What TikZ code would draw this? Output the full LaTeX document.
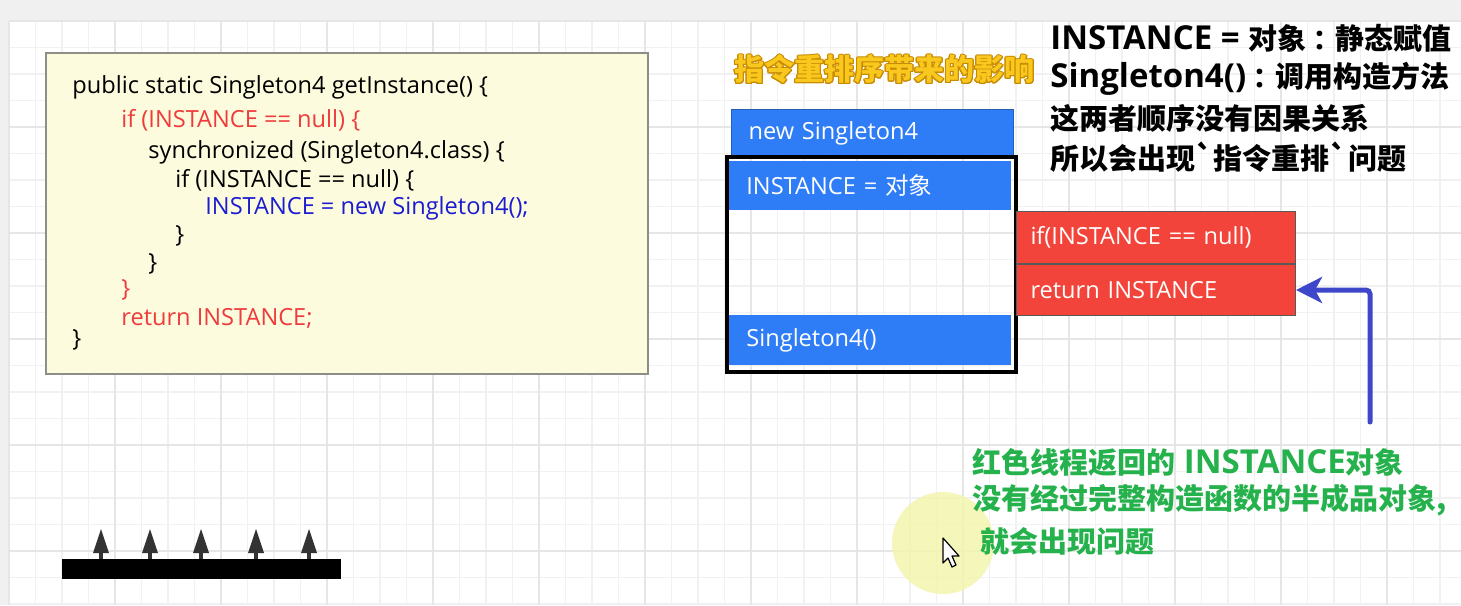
\documentclass[tikz,border=0pt]{standalone}
\usepackage{fontspec}
\setmainfont{Open Sans}
\newfontfamily\cjk{Noto Sans CJK SC}
\usepackage[copies]{contour}
\usetikzlibrary{arrows.meta}
\definecolor{pagegray}{HTML}{F0F0F0}
\definecolor{gridminor}{HTML}{F1F1F1}
\definecolor{gridmajor}{HTML}{E6E6E6}
\definecolor{codebg}{HTML}{FDFBDD}
\definecolor{codeframe}{HTML}{8E8E88}
\definecolor{kwred}{HTML}{EE3B3B}
\definecolor{kwblue}{HTML}{1C1CD2}
\definecolor{stepblue}{HTML}{2F7DF6}
\definecolor{stepred}{HTML}{F2443A}
\definecolor{arrowblue}{HTML}{3E47C9}
\definecolor{titleyellow}{HTML}{F8C81E}
\definecolor{titleedge}{HTML}{C98A00}
\definecolor{notegreen}{HTML}{25B24D}
\definecolor{treegray}{HTML}{333333}
\definecolor{cursorglow}{HTML}{F3F5AE}
\contourlength{0.5pt}
\newcommand{\zh}[1]{{\cjk\fontsize{14.5}{17}\selectfont #1}}
\begin{document}
\begin{tikzpicture}[x=0.5pt, y=-0.5pt,
	code/.style = {anchor=west, inner sep=0pt, font=\fontsize{11.8}{14}\selectfont},
	stepbox/.style = {minimum height=24pt, inner xsep=8.5pt, text width=124pt, align=left,
		text=white, font=\fontsize{11.8}{14}\selectfont},
	redbox/.style = {stepbox, fill=stepred, draw=black!65, line width=0.5pt,
		text width=125.5pt, inner xsep=7pt},
	note/.style = {anchor=west, inner sep=0pt, font=\bfseries\fontsize{16.5}{19}\selectfont}]
	\useasboundingbox (0,0) rectangle (1461,605);
	% canvas with grid
	\fill[pagegray] (0,0) rectangle (1461,605);
	\fill[white] (9,21) rectangle (1461,605);
	\foreach \i in {0,...,54}
		\draw[gridminor, line width=0.6pt] ({9+26.5*\i},21) -- ({9+26.5*\i},605);
	\foreach \j in {0,...,22}
		\draw[gridminor, line width=0.6pt] (9,{21+26.5*\j}) -- (1461,{21+26.5*\j});
	\foreach \i in {0,4,...,52}
		\draw[gridmajor, line width=0.6pt] ({9+26.5*\i},21) -- ({9+26.5*\i},605);
	\foreach \j in {0,4,...,20}
		\draw[gridmajor, line width=0.6pt] (9,{21+26.5*\j}) -- (1461,{21+26.5*\j});
	% code listing
	\draw[codeframe, fill=codebg, line width=1pt] (46,53) rectangle (648,374);
	\node[code] (codeA) at (72,87) {public static Singleton4 getInstance() \{};
	\node[code, text=kwred] (codeB) at (121,120) {if (INSTANCE == null) \{};
	\node[code] (codeC) at (148,152) {synchronized (Singleton4.class) \{};
	\node[code] (codeD) at (175,180) {if (INSTANCE == null) \{};
	\node[code, text=kwblue] (codeE) at (205,208) {INSTANCE = new Singleton4();};
	\node[code] (codeF) at (175,236) {\}};
	\node[code] (codeG) at (148,264) {\}};
	\node[code, text=kwred] (codeH) at (121,290) {\}};
	\node[code, text=kwred] (codeI) at (121,318) {return INSTANCE;};
	\node[code] (codeJ) at (72,340) {\}};
	% title
	\node[anchor=west, inner sep=0pt, text=titleyellow, font=\cjk\bfseries\fontsize{15}{18}\selectfont]
		(title) at (734,70) {\contour{titleedge}{指令重排序带来的影响}};
	% blue thread
	\node[stepbox, fill=stepblue, draw=stepblue!75!black, line width=0.5pt, anchor=north west]
		(newobj) at (731,109) {new Singleton4};
	\draw[line width=1.6pt] (727,157) rectangle (1016,372);
	\node[stepbox, fill=stepblue, anchor=north west, minimum height=24.5pt]
		(assign) at (729,161) {INSTANCE = {\cjk 对象}};
	\node[stepbox, fill=stepblue, anchor=north west, minimum height=25pt]
		(ctor) at (729,315) {Singleton4()};
	% red thread
	\node[redbox, anchor=north west, minimum height=26pt] (check) at (1016,211) {if(INSTANCE == null)};
	\node[redbox, anchor=north west, minimum height=25.5pt] (ret) at (1016,264) {return INSTANCE};
	\coordinate (tail) at (1370,422);
	\draw[arrowblue, line width=2.5pt, line cap=round, rounded corners=2pt,
		-{Stealth[length=13pt, width=13pt, inset=3.5pt]}] (tail) |- (ret.east);
	% cursor glow
	\fill[cursorglow, opacity=0.85] (943,543) circle [radius=25.5pt];
	% notes
	\node[note] (noteA) at (1050,38) {INSTANCE = \zh{对象} : \zh{静态赋值}};
	\node[note] (noteB) at (1050,79) {Singleton4() : \zh{调用构造方法}};
	\node[note] (noteC) at (1050,118) {\zh{这两者顺序没有因果关系}};
	\node[note] (noteD) at (1050,157) {\zh{所以会出现`指令重排`问题}};
	\node[note, text=notegreen] (greenA) at (972,462) {\zh{红色线程返回的} INSTANCE\zh{对象}};
	\node[note, text=notegreen] (greenB) at (972,500) {\zh{没有经过完整构造函数的半成品对象,}};
	\node[note, text=notegreen] (greenC) at (980,541) {\zh{就会出现问题}};
	% cursor
	\draw[black, fill=white, line width=0.6pt, line join=round]
		(943,538) -- (943,563) -- (948,558) -- (952,567) -- (956,565) -- (952,556) -- (959,556) -- cycle;
	% ground with trees
	\fill[black] (62,559) rectangle (341,579);
	\foreach \x in {101,150,201,256,309} {
		\fill[treegray] (\x-8,553) -- (\x,529) -- (\x+8,553) -- cycle;
		\fill[treegray] (\x-2,552) rectangle (\x+2,559);
	}
\end{tikzpicture}
\end{document}
